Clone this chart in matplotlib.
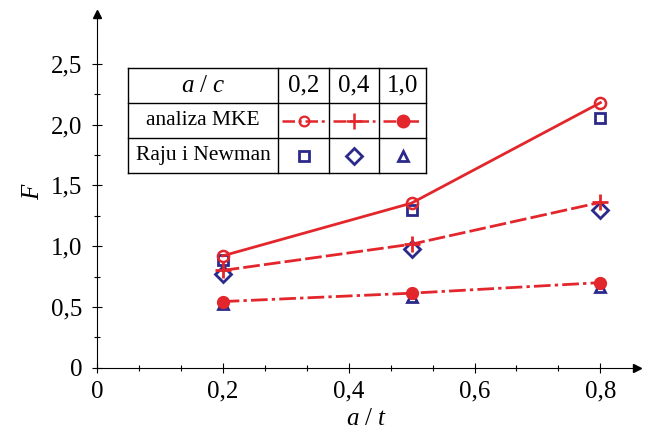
import matplotlib.pyplot as plt
from matplotlib.ticker import FixedLocator, MultipleLocator, FuncFormatter

plt.rcParams['font.family'] = ['Liberation Serif', 'DejaVu Serif']
plt.rcParams['mathtext.fontset'] = 'custom'
plt.rcParams['mathtext.it'] = 'Liberation Serif:italic'
plt.rcParams['mathtext.rm'] = 'Liberation Serif'

# dane
a_t = [0.2, 0.5, 0.8]
mke_02 = [0.92, 1.354, 2.18]
mke_04 = [0.80, 1.016, 1.36]
mke_10 = [0.544, 0.613, 0.70]
rn_02 = [0.887, 1.30, 2.055]
rn_04 = [0.77, 0.98, 1.30]
rn_10 = [0.525, 0.585, 0.667]
ac_labels = ['0,2', '0,4', '1,0']

RED = '#e3262b'
NAVY = '#2b2a8a'

fig = plt.figure(figsize=(6.45, 4.3), dpi=100)
ax = fig.add_axes([0.150, 0.1449, 0.8375, 0.8226])
ax.set_xlim(0, 0.858)
ax.set_ylim(0, 2.91)

for s in ['top', 'right']:
    ax.spines[s].set_visible(False)
ax.plot(1, 0, '>', color='k', ms=6, transform=ax.transAxes, clip_on=False)
ax.plot(0, 1, '^', color='k', ms=6, transform=ax.transAxes, clip_on=False)

ax.xaxis.set_major_locator(FixedLocator([0, 0.2, 0.4, 0.6, 0.8]))
ax.xaxis.set_minor_locator(MultipleLocator(0.2 / 3))
ax.yaxis.set_major_locator(FixedLocator([0, 0.5, 1.0, 1.5, 2.0, 2.5]))
ax.yaxis.set_minor_locator(FixedLocator([0.25, 0.75, 1.25, 1.75, 2.25]))
fmt = FuncFormatter(lambda v, p: '0' if v == 0 else f'{v:.1f}'.replace('.', ','))
ax.xaxis.set_major_formatter(fmt)
ax.yaxis.set_major_formatter(fmt)
ax.tick_params(which='major', direction='inout', length=7, width=0.8, labelsize=18)
ax.tick_params(which='minor', direction='inout', length=4, width=0.8)
ax.tick_params(axis='x', pad=6)
ax.tick_params(axis='y', pad=7)

ax.set_xlabel('$a$ / $t$', fontsize=18, labelpad=4)
ax.set_ylabel('$F$', fontsize=18, labelpad=5)

# linie MKE
ax.plot(a_t, mke_02, '-', color=RED, lw=2, marker='o', ms=8, mfc='none', mec=RED, mew=1.8, zorder=3)
ax.plot(a_t, mke_04, '--', color=RED, lw=2, dashes=(6, 1.5), marker='+', ms=12, mew=2, zorder=3)
ax.plot(a_t, mke_10, '-.', color=RED, lw=2, dashes=(6, 1.5, 1.2, 1.5), marker='o', ms=8.5, mfc=RED, mec=RED, zorder=3)

# Raju i Newman
ax.plot(a_t, rn_02, 's', ms=7, mfc='none', mec=NAVY, mew=2, zorder=2)
ax.plot(a_t, rn_04, 'D', ms=8, mfc='none', mec=NAVY, mew=2, zorder=2)
ax.plot(a_t, rn_10, '^', ms=7, mfc='none', mec=NAVY, mew=2, zorder=2)

# tabela legendy (piksele -> ulamki figury)
W, H = 645, 430
xs = [128, 278, 329, 379, 426]
ys = [68, 103, 138, 173]
fx = lambda p: p / W
fy = lambda p: 1 - p / H
for y in ys:
    fig.add_artist(plt.Line2D([fx(xs[0]), fx(xs[-1])], [fy(y), fy(y)], color='k', lw=1))
for x in xs:
    fig.add_artist(plt.Line2D([fx(x), fx(x)], [fy(ys[0]), fy(ys[-1])], color='k', lw=1))

fig.text(fx((xs[0] + xs[1]) / 2), fy((ys[0] + ys[1]) / 2), '$a$ / $c$', ha='center', va='center', fontsize=18)
fig.text(fx((xs[0] + xs[1]) / 2), fy((ys[1] + ys[2]) / 2), 'analiza MKE', ha='center', va='center', fontsize=15.5)
fig.text(fx((xs[0] + xs[1]) / 2), fy((ys[2] + ys[3]) / 2), 'Raju i Newman', ha='center', va='center', fontsize=15.5)

mke_styles = [dict(marker='o', ms=7, mfc='none', mew=1.6),
              dict(marker='+', ms=11, mew=1.8),
              dict(marker='o', ms=9, mfc=RED)]
rn_styles = [dict(marker='s', ms=7), dict(marker='D', ms=8), dict(marker='^', ms=7)]
for i, lab in enumerate(ac_labels):
    cx = (xs[i + 1] + xs[i + 2]) / 2
    fig.text(fx(cx), fy((ys[0] + ys[1]) / 2), lab, ha='center', va='center', fontsize=18)
    fig.add_artist(plt.Line2D([fx(xs[i + 1] + 4), fx(xs[i + 2] - 4)], [fy((ys[1] + ys[2]) / 2)] * 2,
                              color=RED, lw=1.8, dashes=(5, 1.5, 1.2, 1.5)))
    fig.add_artist(plt.Line2D([fx(cx)], [fy((ys[1] + ys[2]) / 2)], color=RED, mec=RED, **mke_styles[i]))
    fig.add_artist(plt.Line2D([fx(cx)], [fy((ys[2] + ys[3]) / 2)], color=NAVY, ls='none', mfc='none',
                              mec=NAVY, mew=2, **rn_styles[i]))

plt.savefig('out.png', dpi=100)
plt.close()
